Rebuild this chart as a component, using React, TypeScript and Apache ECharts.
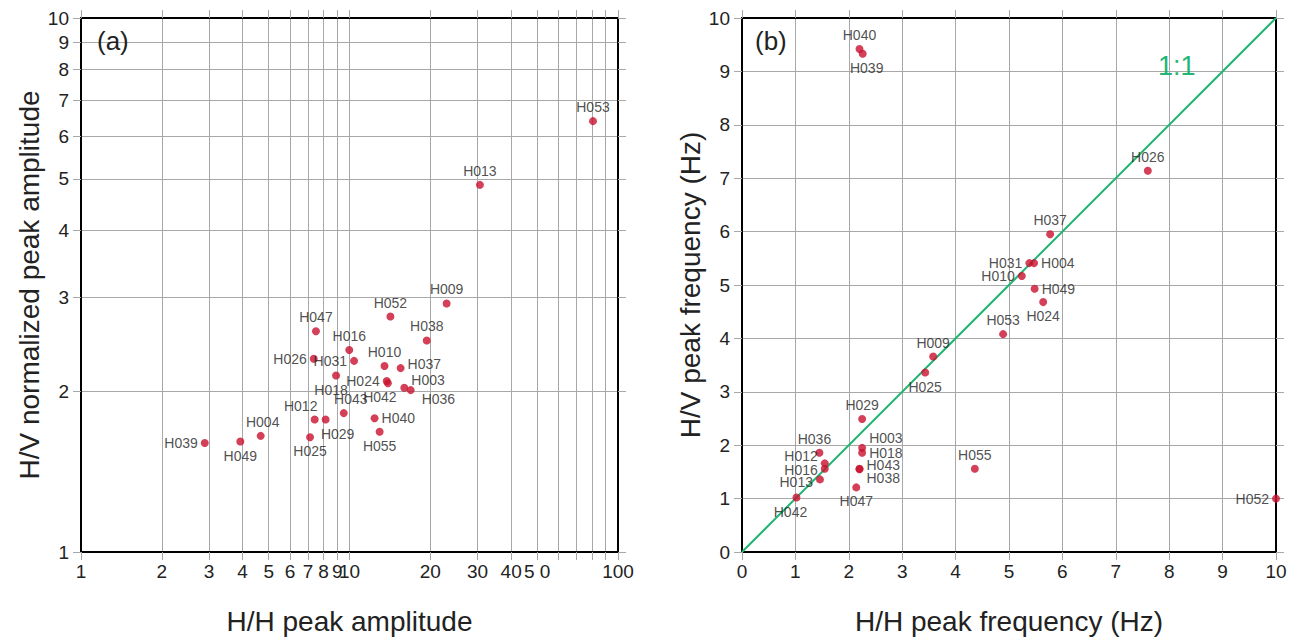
import React, { useEffect, useRef } from "react";
import * as echarts from "echarts";

// ---------- Panel (a): H/H peak amplitude vs H/V normalized peak amplitude ----------
const ampStations = ["H053","H013","H009","H052","H038","H047","H016","H026","H031","H010","H037","H018","H024","H042","H003","H036","H043","H012","H029","H040","H055","H025","H004","H049","H039"];
const ampHH = [80.7,30.6,23.0,14.2,19.4,7.5,9.98,7.36,10.4,13.5,15.5,8.91,13.76,13.9,16.0,16.9,9.52,7.42,8.15,12.4,12.95,7.13,4.67,3.92,2.89];
const ampHV = [6.41,4.87,2.92,2.76,2.49,2.59,2.39,2.30,2.28,2.23,2.21,2.14,2.09,2.07,2.03,2.01,1.82,1.77,1.77,1.78,1.68,1.64,1.65,1.61,1.60];

// ---------- Panel (b): H/H peak frequency vs H/V peak frequency ----------
const freqStations = ["H040","H039","H026","H037","H031","H004","H010","H049","H024","H053","H009","H025","H029","H003","H018","H036","H012","H016","H013","H042","H043","H038","H047","H055","H052"];
const freqHH = [2.20,2.26,7.60,5.77,5.38,5.47,5.24,5.48,5.64,4.89,3.58,3.43,2.25,2.25,2.25,1.45,1.55,1.55,1.46,1.02,2.20,2.20,2.14,4.36,10.0];
const freqHV = [9.42,9.33,7.14,5.95,5.41,5.41,5.17,4.93,4.68,4.08,3.66,3.36,2.49,1.95,1.86,1.86,1.66,1.56,1.36,1.02,1.56,1.55,1.21,1.56,1.00];

// tick values
const ampXTicks = [1,2,3,4,5,6,7,8,9,10,20,30,40,50,60,70,80,90,100];
const ampXLabels = [1,2,3,4,5,6,7,8,9,10,20,30,40,50,100];
const ampYTicks = [1,2,3,4,5,6,7,8,9,10];
const oneToOne = [[0,0],[10,10]];

// label placement (style)
const ampLabelPos: Record<string, [string, number, number]> = {
  H053:["top",0,0],H013:["top",0,0],H009:["top",0,0],H052:["top",0,0],H038:["top",0,0],
  H047:["top",0,0],H016:["top",0,0],H026:["left",0,0],H031:["left",0,0],H010:["top",0,0],
  H037:["right",0,-4],H018:["bottom",-5,0],H024:["left",0,0],H042:["bottom",-8,0],
  H003:["right",0,-8],H036:["right",4,9],H043:["top",7,0],H012:["top",-14,0],
  H029:["bottom",12,0],H040:["right",0,0],H055:["bottom",0,0],H025:["bottom",0,0],
  H004:["top",2,0],H049:["bottom",0,0],H039:["left",0,0],
};
const freqLabelPos: Record<string, [string, number, number]> = {
  H040:["top",0,0],H039:["bottom",4,0],H026:["top",0,0],H037:["top",0,0],H031:["left",0,0],
  H004:["right",0,0],H010:["left",0,0],H049:["right",0,0],H024:["bottom",0,0],H053:["top",0,0],
  H009:["top",0,0],H025:["bottom",0,0],H029:["top",0,0],H003:["right",0,-10],H018:["right",0,0],
  H036:["top",-5,0],H012:["left",0,-7],H016:["left",0,1],H013:["left",0,3],H042:["bottom",-6,0],
  H043:["right",0,-4],H038:["right",0,9],H047:["bottom",0,0],H055:["top",0,0],H052:["left",0,0],
};

const FONT = "Liberation Sans, Arial, sans-serif";
const DOT = "#c8102e";
const GREEN = "#22b573";
const GRIDC = "#a8a8a8";

function buildData(names: string[], xs: number[], ys: number[], pos: Record<string, [string, number, number]>) {
  return names.map((n, i) => {
    const p = pos[n] || ["top", 0, 0];
    return {
      name: n,
      value: [xs[i], ys[i]],
      label: { position: p[0], offset: [p[1], p[2]] },
    };
  });
}

export default function App() {
  const ref = useRef<HTMLDivElement>(null);
  useEffect(() => {
    if (!ref.current) return;
    const chart = echarts.init(ref.current, null, { renderer: "svg" });
    const tickLabel = { color: "#222", fontSize: 19, fontFamily: FONT };
    const frameLine = { show: true, lineStyle: { color: "#000", width: 2 } };
    const tickStyle = { show: true, inside: false, length: 8, lineStyle: { color: GRIDC, width: 1 } };
    const split = { show: true, lineStyle: { color: GRIDC, width: 1 } };
    const nameStyle = { color: "#222", fontSize: 28, fontFamily: FONT };

    const logX = (pos: string, showLabel: boolean, extra: any = {}) => ({
      type: "log", logBase: 10, min: 1, max: 100, gridIndex: 0, position: pos,
      axisLine: { ...frameLine, onZero: false },
      axisTick: { ...tickStyle, customValues: ampXTicks },
      axisLabel: showLabel
        ? { ...tickLabel, margin: 10, customValues: ampXLabels, formatter: (v: number) => (v === 50 ? "5 0" : String(v)) }
        : { show: false },
      splitLine: showLabel ? split : { show: false },
      ...extra,
    });
    const logY = (pos: string, showLabel: boolean, extra: any = {}) => ({
      type: "log", logBase: 10, min: 1, max: 10, gridIndex: 0, position: pos,
      axisLine: { ...frameLine, onZero: false },
      axisTick: { ...tickStyle, customValues: ampYTicks },
      axisLabel: showLabel ? { ...tickLabel, margin: 12, customValues: ampYTicks } : { show: false },
      splitLine: showLabel ? split : { show: false },
      ...extra,
    });
    const linX = (pos: string, showLabel: boolean, extra: any = {}) => ({
      type: "value", min: 0, max: 10, interval: 1, gridIndex: 1, position: pos,
      axisLine: { ...frameLine, onZero: false },
      axisTick: tickStyle,
      axisLabel: showLabel ? { ...tickLabel, margin: 10 } : { show: false },
      splitLine: showLabel ? split : { show: false },
      ...extra,
    });
    const linY = (pos: string, showLabel: boolean, extra: any = {}) => ({
      type: "value", min: 0, max: 10, interval: 1, gridIndex: 1, position: pos,
      axisLine: { ...frameLine, onZero: false },
      axisTick: tickStyle,
      axisLabel: showLabel ? { ...tickLabel, margin: 12 } : { show: false },
      splitLine: showLabel ? split : { show: false },
      ...extra,
    });

    const pointLabel = {
      show: true, formatter: "{b}", color: "#222", fontSize: 14, fontFamily: FONT, distance: 3,
    };

    chart.setOption({
      animation: false,
      backgroundColor: "#fff",
      grid: [
        { left: 81, top: 18, width: 537, height: 538 },
        { left: 742, top: 18, width: 534, height: 538 },
      ],
      xAxis: [
        logX("bottom", true, { name: "H/H peak amplitude", nameLocation: "middle", nameGap: 55, nameTextStyle: nameStyle }),
        logX("top", false),
        linX("bottom", true, { name: "H/H peak frequency (Hz)", nameLocation: "middle", nameGap: 55, nameTextStyle: nameStyle }),
        linX("top", false),
      ],
      yAxis: [
        logY("left", true, { name: "H/V normalized peak amplitude", nameLocation: "middle", nameGap: 37, nameTextStyle: nameStyle }),
        logY("right", false),
        linY("left", true, { name: "H/V peak frequency (Hz)", nameLocation: "middle", nameGap: 33, nameTextStyle: nameStyle }),
        linY("right", false),
      ],
      series: [
        {
          type: "scatter", xAxisIndex: 0, yAxisIndex: 0, symbolSize: 8,
          itemStyle: { color: DOT }, label: pointLabel,
          data: buildData(ampStations, ampHH, ampHV, ampLabelPos),
          z: 5,
        },
        {
          type: "line", xAxisIndex: 2, yAxisIndex: 2, data: oneToOne, symbol: "none",
          lineStyle: { color: GREEN, width: 2 }, z: 3,
        },
        {
          type: "scatter", xAxisIndex: 2, yAxisIndex: 2, symbolSize: 8,
          itemStyle: { color: DOT }, label: pointLabel,
          data: buildData(freqStations, freqHH, freqHV, freqLabelPos),
          z: 5,
        },
      ],
      graphic: [
        { type: "text", left: 97, top: 28, z: 100, style: { text: "(a)", fontSize: 26, fontFamily: FONT, fill: "#222" } },
        { type: "text", left: 755, top: 28, z: 100, style: { text: "(b)", fontSize: 26, fontFamily: FONT, fill: "#222" } },
        { type: "text", left: 1158, top: 52, z: 100, style: { text: "1:1", fontSize: 27, fontFamily: FONT, fill: GREEN } },
      ],
    });
    return () => chart.dispose();
  }, []);
  return <div ref={ref} style={{ position: "fixed", left: 0, top: 0, width: 1302, height: 640 }} />;
}
